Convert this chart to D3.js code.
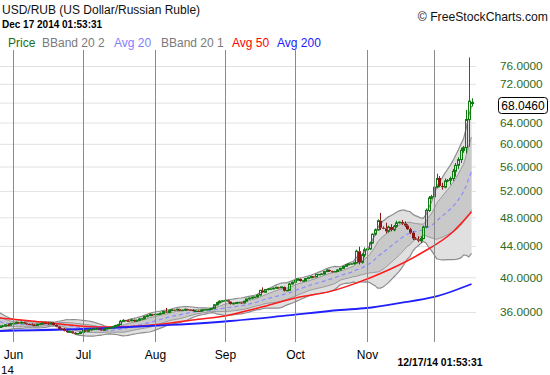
<!DOCTYPE html>
<html>
<head>
<meta charset="utf-8">
<script src="https://cdnjs.cloudflare.com/ajax/libs/d3/7.8.5/d3.min.js"></script>
<style>
body { margin: 0; background: #fff; }
svg { display: block; font-family: "Liberation Sans", Arial, sans-serif; }
</style>
</head>
<body>
<svg id="chart" width="550" height="375"></svg>
<script>
// USD/RUB daily bars, May 26 - Dec 17 2014 (feed has Sunday bars, no Saturdays)
// rows: May 26-30, then one row per week Sun..Fri
const openP = [
    34.35, 34.45, 34.50, 34.62, 34.58,
    34.75, 34.78, 34.88, 34.80, 34.90, 34.78,
    34.70, 34.68, 34.62, 34.55, 34.68, 34.72,
    34.80, 34.78, 34.70, 34.82, 34.60, 34.45,
    34.20, 34.18, 34.00, 33.85, 33.95, 33.80,
    33.70, 33.72, 33.85, 34.05, 33.95, 34.10,
    34.15, 34.18, 34.25, 34.15, 34.05, 34.20,
    34.30, 34.32, 34.40, 34.55, 34.65, 35.00,
    35.10, 35.06, 35.05, 35.15, 35.00, 35.10,
    35.25, 35.28, 35.50, 35.60, 35.75, 35.70,
    35.75, 35.78, 35.85, 36.05, 35.95, 36.15,
    36.25, 36.22, 36.30, 36.15, 36.20, 36.30,
    36.25, 36.22, 36.10, 36.12, 36.08, 36.20,
    36.25, 36.28, 36.30, 36.40, 36.80, 37.05,
    37.20, 37.25, 37.30, 37.15, 36.90, 36.95,
    37.05, 37.06, 37.00, 37.20, 37.45, 37.55,
    37.65, 37.68, 37.90, 38.45, 38.22, 38.55,
    38.60, 38.62, 38.70, 38.80, 38.75, 38.85,
    38.40, 38.45, 39.20, 39.40, 39.65, 39.80,
    39.55, 39.58, 39.85, 39.95, 40.10, 40.05,
    40.35, 40.36, 40.40, 40.70, 40.90, 40.75,
    40.70, 40.72, 40.90, 41.10, 41.35, 41.55,
    41.65, 41.68, 41.80, 43.30, 41.85, 42.80,
    43.50, 43.60, 44.40, 45.60, 46.20, 47.50,
    46.50, 46.40, 46.00, 46.60, 46.20, 46.70,
    47.20, 47.30, 47.10, 46.80, 46.30, 45.80,
    45.00, 44.90, 44.70, 45.00, 46.60, 49.00,
    50.90, 51.10, 52.60, 54.10, 52.80, 52.60,
    53.60, 53.70, 54.00, 55.20, 56.20, 57.20,
    58.80, 59.30, 64.60, 67.80
];
const highP = [
    34.55, 34.62, 34.70, 34.75, 34.85,
    34.82, 34.98, 34.95, 34.98, 34.95, 34.85,
    34.74, 34.78, 34.70, 34.75, 34.80, 34.88,
    34.84, 34.86, 34.90, 34.88, 34.66, 34.50,
    34.25, 34.28, 34.10, 34.02, 34.00, 33.88,
    33.76, 33.92, 34.12, 34.10, 34.18, 34.22,
    34.20, 34.32, 34.30, 34.20, 34.25, 34.38,
    34.34, 34.48, 34.62, 34.72, 35.15, 35.22,
    35.14, 35.18, 35.25, 35.20, 35.18, 35.32,
    35.30, 35.58, 35.68, 35.82, 35.80, 35.85,
    35.80, 35.95, 36.12, 36.45, 36.22, 36.32,
    36.30, 36.38, 36.35, 36.28, 36.38, 36.35,
    36.28, 36.30, 36.22, 36.18, 36.25, 36.32,
    36.30, 36.38, 36.45, 36.88, 37.15, 37.30,
    37.28, 37.42, 37.35, 37.20, 37.05, 37.12,
    37.10, 37.10, 37.25, 37.50, 37.62, 37.72,
    37.70, 38.00, 38.50, 38.80, 38.60, 38.68,
    38.66, 38.78, 38.88, 38.85, 38.92, 38.90,
    38.50, 39.30, 39.48, 39.72, 39.88, 39.85,
    39.62, 39.92, 40.02, 40.18, 40.15, 40.42,
    40.40, 40.50, 40.78, 41.00, 40.95, 40.82,
    40.76, 40.98, 41.18, 41.42, 41.62, 41.72,
    41.72, 41.90, 43.50, 43.90, 43.00, 43.80,
    43.70, 44.60, 45.70, 46.40, 47.70, 48.65,
    46.70, 47.20, 46.80, 47.00, 46.90, 47.50,
    47.40, 47.60, 47.40, 47.00, 46.50, 46.00,
    45.20, 45.30, 45.30, 46.80, 49.30, 51.20,
    51.40, 53.00, 54.80, 54.40, 53.30, 54.00,
    53.90, 54.30, 55.60, 56.60, 57.60, 59.30,
    59.60, 66.50, 78.00, 68.90
];
const lowP = [
    34.30, 34.35, 34.45, 34.50, 34.55,
    34.70, 34.72, 34.72, 34.75, 34.70, 34.62,
    34.66, 34.55, 34.48, 34.50, 34.60, 34.65,
    34.74, 34.62, 34.66, 34.55, 34.38, 34.15,
    34.15, 33.95, 33.78, 33.80, 33.72, 33.62,
    33.66, 33.65, 33.80, 33.88, 33.90, 34.02,
    34.10, 34.08, 34.08, 33.98, 34.00, 34.15,
    34.25, 34.25, 34.35, 34.50, 34.60, 34.92,
    35.02, 34.95, 35.00, 34.92, 34.95, 35.05,
    35.20, 35.20, 35.42, 35.55, 35.58, 35.62,
    35.70, 35.70, 35.80, 35.90, 35.90, 36.08,
    36.20, 36.15, 36.08, 36.10, 36.15, 36.18,
    36.18, 36.05, 36.02, 36.00, 36.02, 36.15,
    36.20, 36.20, 36.25, 36.35, 36.75, 36.98,
    37.15, 37.10, 37.05, 36.82, 36.85, 36.90,
    37.00, 36.92, 36.95, 37.15, 37.40, 37.48,
    37.60, 37.62, 37.85, 38.15, 38.18, 38.45,
    38.56, 38.55, 38.62, 38.65, 38.70, 38.30,
    38.35, 38.40, 39.12, 39.35, 39.58, 39.48,
    39.50, 39.52, 39.78, 39.90, 39.95, 40.00,
    40.30, 40.28, 40.35, 40.65, 40.65, 40.58,
    40.65, 40.65, 40.85, 41.05, 41.30, 41.48,
    41.60, 41.58, 41.75, 41.60, 41.70, 42.50,
    43.40, 43.50, 44.30, 45.40, 46.10, 46.20,
    46.30, 45.70, 45.80, 46.00, 46.00, 46.50,
    47.10, 46.90, 46.60, 46.20, 45.60, 44.80,
    44.80, 44.50, 44.40, 44.90, 46.50, 48.80,
    50.70, 50.60, 52.40, 52.60, 52.20, 52.40,
    53.40, 53.00, 53.60, 54.30, 55.60, 56.60,
    58.40, 58.30, 59.50, 67.20
];
const closeP = [
    34.45, 34.50, 34.62, 34.58, 34.75,
    34.78, 34.88, 34.80, 34.90, 34.78, 34.70,
    34.68, 34.62, 34.55, 34.68, 34.72, 34.80,
    34.78, 34.70, 34.82, 34.60, 34.45, 34.20,
    34.18, 34.00, 33.85, 33.95, 33.80, 33.70,
    33.72, 33.85, 34.05, 33.95, 34.10, 34.15,
    34.18, 34.25, 34.15, 34.05, 34.20, 34.30,
    34.32, 34.40, 34.55, 34.65, 35.00, 35.10,
    35.06, 35.05, 35.15, 35.00, 35.10, 35.25,
    35.28, 35.50, 35.60, 35.75, 35.70, 35.75,
    35.78, 35.85, 36.05, 35.95, 36.15, 36.25,
    36.22, 36.30, 36.15, 36.20, 36.30, 36.25,
    36.22, 36.10, 36.12, 36.08, 36.20, 36.25,
    36.28, 36.30, 36.40, 36.80, 37.05, 37.20,
    37.25, 37.30, 37.15, 36.90, 36.95, 37.05,
    37.06, 37.00, 37.20, 37.45, 37.55, 37.65,
    37.68, 37.90, 38.45, 38.22, 38.55, 38.60,
    38.62, 38.70, 38.80, 38.75, 38.85, 38.40,
    38.45, 39.20, 39.40, 39.65, 39.80, 39.55,
    39.58, 39.85, 39.95, 40.10, 40.05, 40.35,
    40.36, 40.40, 40.70, 40.90, 40.75, 40.70,
    40.72, 40.90, 41.10, 41.35, 41.55, 41.65,
    41.68, 41.80, 43.30, 41.85, 42.80, 43.50,
    43.60, 44.40, 45.60, 46.20, 47.50, 46.50,
    46.40, 46.00, 46.60, 46.20, 46.70, 47.20,
    47.30, 47.10, 46.80, 46.30, 45.80, 45.00,
    44.90, 44.70, 45.00, 46.60, 49.00, 50.90,
    51.10, 52.60, 54.00, 52.80, 52.60, 53.60,
    53.70, 54.00, 55.20, 56.20, 57.20, 58.80,
    59.30, 64.60, 68.30, 68.046
];
// closes of the 19 bars before May 26, only used to seed the 20 bar bands
const priorClose = [35.90, 35.80, 35.65, 35.50, 35.35, 35.20, 35.10, 35.05, 35.00, 35.05,
                    34.90, 34.80, 34.70, 34.62, 34.55, 34.48, 34.40, 34.35, 34.38];

// long moving averages (bar index, value)
const avg50Idx = [0, 12, 24, 36, 49, 61, 72, 85, 97, 112, 123, 133, 145, 157, 169, 176];
const avg50Val = [35.35, 35.03, 34.66, 34.39, 34.45, 34.70, 35.14, 35.62, 36.50, 37.68, 38.30, 39.30, 40.90, 43.00, 45.90, 48.80];
const avg200Idx = [0, 41, 64, 86, 105, 127, 137, 149, 162, 176];
const avg200Val = [33.98, 34.29, 34.61, 35.03, 35.55, 36.22, 36.44, 36.99, 37.68, 39.20];

const monthIdx = [5, 31, 58, 84, 110, 137, 162];
const monthLabels = ['Jun', 'Jul', 'Aug', 'Sep', 'Oct', 'Nov'];
const priceTicks = [36, 40, 44, 48, 52, 56, 60, 64, 68, 72, 76];
const lastPrice = 68.046;

const legendItems = [
    { text: 'Price', color: '#1b6e1b', x: 8 },
    { text: 'BBand 20 2', color: '#7a7a7a', x: 42 },
    { text: 'Avg 20', color: '#8080ff', x: 114 },
    { text: 'BBand 20 1', color: '#7a7a7a', x: 161 },
    { text: 'Avg 50', color: '#ff0000', x: 232 },
    { text: 'Avg 200', color: '#2020ff', x: 277 }
];

const plot = { left: 0, right: 476, top: 50, bottom: 342 };
const svg = d3.select('#chart');

const x = d3.scaleLinear().domain([5, 162]).range([13, 434]);
const xr = x.copy().interpolate(d3.interpolateRound);
const y = d3.scaleLog().domain([36, 76]).range([312, 66]);

// bollinger bands from the closes
const allClose = priorClose.concat(closeP);
const bands = closeP.map((c, i) => {
    const win = allClose.slice(i, i + 20);
    const m = d3.mean(win);
    const sd = Math.sqrt(d3.mean(win, v => (v - m) * (v - m)));
    return { i: i, m: m, sd: sd };
});

svg.append('defs').append('clipPath').attr('id', 'clip')
    .append('rect')
    .attr('x', plot.left).attr('y', plot.top)
    .attr('width', plot.right - plot.left).attr('height', plot.bottom - plot.top);

// horizontal grid
svg.append('g')
    .call(d3.axisLeft(y).tickValues(priceTicks).tickSize(-plot.right).tickFormat(''))
    .call(g => g.select('.domain').remove())
    .call(g => g.selectAll('line').attr('stroke', '#e2e2e2'));

const chart = svg.append('g').attr('clip-path', 'url(#clip)');

const bandArea = k => d3.area()
    .x(d => x(d.i))
    .y0(d => y(d.m - k * d.sd))
    .y1(d => y(d.m + k * d.sd));

chart.append('path').datum(bands).attr('d', bandArea(2)).attr('fill', '#e0e0e0');
chart.append('path').datum(bands).attr('d', bandArea(1)).attr('fill', '#c9c9c9');

// vertical month grid
svg.append('g')
    .attr('transform', `translate(0,${plot.bottom})`)
    .call(d3.axisBottom(xr).tickValues(monthIdx).tickSize(-(plot.bottom - plot.top)).tickFormat(''))
    .call(g => g.select('.domain').remove())
    .call(g => g.selectAll('line').attr('stroke', '#8a8a8a'));

function bandLine(k) {
    return d3.line().x(d => x(d.i)).y(d => y(d.m + k * d.sd));
}

[2, -2].forEach(k => {
    chart.append('path').datum(bands).attr('d', bandLine(k))
        .attr('fill', 'none').attr('stroke', '#8c8c8c').attr('stroke-width', 1.2);
});
[1, -1].forEach(k => {
    chart.append('path').datum(bands).attr('d', bandLine(k))
        .attr('fill', 'none').attr('stroke', '#999').attr('stroke-width', 1);
});

chart.append('path').datum(bands)
    .attr('d', bandLine(0))
    .attr('fill', 'none')
    .attr('stroke', '#8c8cff')
    .attr('stroke-width', 1.2)
    .attr('stroke-dasharray', '4,3');

const maLine = d3.line()
    .curve(d3.curveMonotoneX)
    .x(d => x(d[0]))
    .y(d => y(d[1]));

chart.append('path')
    .datum(avg50Idx.map((d, i) => [d, avg50Val[i]]))
    .attr('d', maLine)
    .attr('fill', 'none').attr('stroke', '#ff1a1a').attr('stroke-width', 1.5);

chart.append('path')
    .datum(avg200Idx.map((d, i) => [d, avg200Val[i]]))
    .attr('d', maLine)
    .attr('fill', 'none').attr('stroke', '#2020ff').attr('stroke-width', 1.8);

// candles
const bars = closeP.map((c, i) => ({ i: i, o: openP[i], h: highP[i], l: lowP[i], c: c }));
const upColor = '#117a11';
const downColor = '#8b1414';

const candle = chart.append('g').selectAll('g')
    .data(bars)
    .join('g');

candle.append('line')
    .attr('x1', d => xr(d.i) + 0.5).attr('x2', d => xr(d.i) + 0.5)
    .attr('y1', d => y(d.h)).attr('y2', d => y(Math.max(d.o, d.c)))
    .attr('stroke', d => d.c >= d.o ? upColor : downColor);
candle.append('line')
    .attr('x1', d => xr(d.i) + 0.5).attr('x2', d => xr(d.i) + 0.5)
    .attr('y1', d => y(Math.min(d.o, d.c))).attr('y2', d => y(d.l))
    .attr('stroke', d => d.c >= d.o ? upColor : downColor);

candle.filter(d => d.c >= d.o).append('rect')
    .attr('x', d => xr(d.i) - 0.5)
    .attr('y', d => y(d.c))
    .attr('width', 2)
    .attr('height', d => Math.max(0.5, y(d.o) - y(d.c)))
    .attr('fill', 'none')
    .attr('stroke', upColor);

candle.filter(d => d.c < d.o).append('rect')
    .attr('x', d => xr(d.i) - 1)
    .attr('y', d => y(d.o))
    .attr('width', 3)
    .attr('height', d => Math.max(1, y(d.c) - y(d.o)))
    .attr('fill', downColor);

// right price axis
const yAxis = svg.append('g')
    .attr('transform', 'translate(500,0)')
    .call(d3.axisRight(y).tickValues(priceTicks.filter(v => v !== 68))
        .tickFormat(d3.format('.4f')).tickSize(0).tickPadding(0))
    .call(g => g.select('.domain').remove());
yAxis.attr('font-family', null).attr('font-size', null);
yAxis.selectAll('text').attr('fill', '#2f6a24').style('font-size', '11.8px');

svg.append('rect')
    .attr('x', 498.5).attr('y', 97.5)
    .attr('width', 49).attr('height', 16).attr('rx', 3)
    .attr('fill', '#fff').attr('stroke', '#000');
svg.append('text')
    .attr('x', 523).attr('y', 105.5).attr('dy', '0.35em')
    .attr('text-anchor', 'middle')
    .style('font-size', '12px')
    .attr('fill', '#000')
    .text(d3.format('.4f')(lastPrice));

// month axis
const xAxis = svg.append('g')
    .attr('transform', `translate(0,${plot.bottom})`)
    .call(d3.axisBottom(xr).tickValues(monthIdx.slice(0, 6))
        .tickFormat((d, i) => monthLabels[i]).tickSize(0).tickPadding(8.5))
    .call(g => g.select('.domain').remove());
xAxis.attr('font-family', null).attr('font-size', null);
xAxis.selectAll('text').attr('fill', '#000').style('font-size', '12px');

svg.append('text')
    .attr('x', 1).attr('y', 373.5)
    .style('font-size', '11.5px')
    .text('14');

svg.append('text')
    .attr('x', xr(162) + 6).attr('y', 366)
    .attr('text-anchor', 'middle')
    .style('font-size', '10.4px').style('font-weight', 'bold')
    .text('12/17/14 01:53:31');

// header
svg.append('text')
    .attr('x', 2).attr('y', 14)
    .style('font-size', '12px')
    .attr('fill', '#111')
    .text('USD/RUB (US Dollar/Russian Ruble)');

svg.append('text')
    .attr('x', 2).attr('y', 28)
    .style('font-size', '10px').style('font-weight', 'bold')
    .text('Dec 17 2014 01:53:31');

svg.append('text')
    .attr('x', 548).attr('y', 21)
    .attr('text-anchor', 'end')
    .style('font-size', '12.2px')
    .attr('fill', '#111')
    .text('\u00a9 FreeStockCharts.com');

svg.append('g').selectAll('text')
    .data(legendItems)
    .join('text')
    .attr('x', d => d.x).attr('y', 47)
    .style('font-size', '12px')
    .attr('fill', d => d.color)
    .text(d => d.text);
</script>
</body>
</html>
